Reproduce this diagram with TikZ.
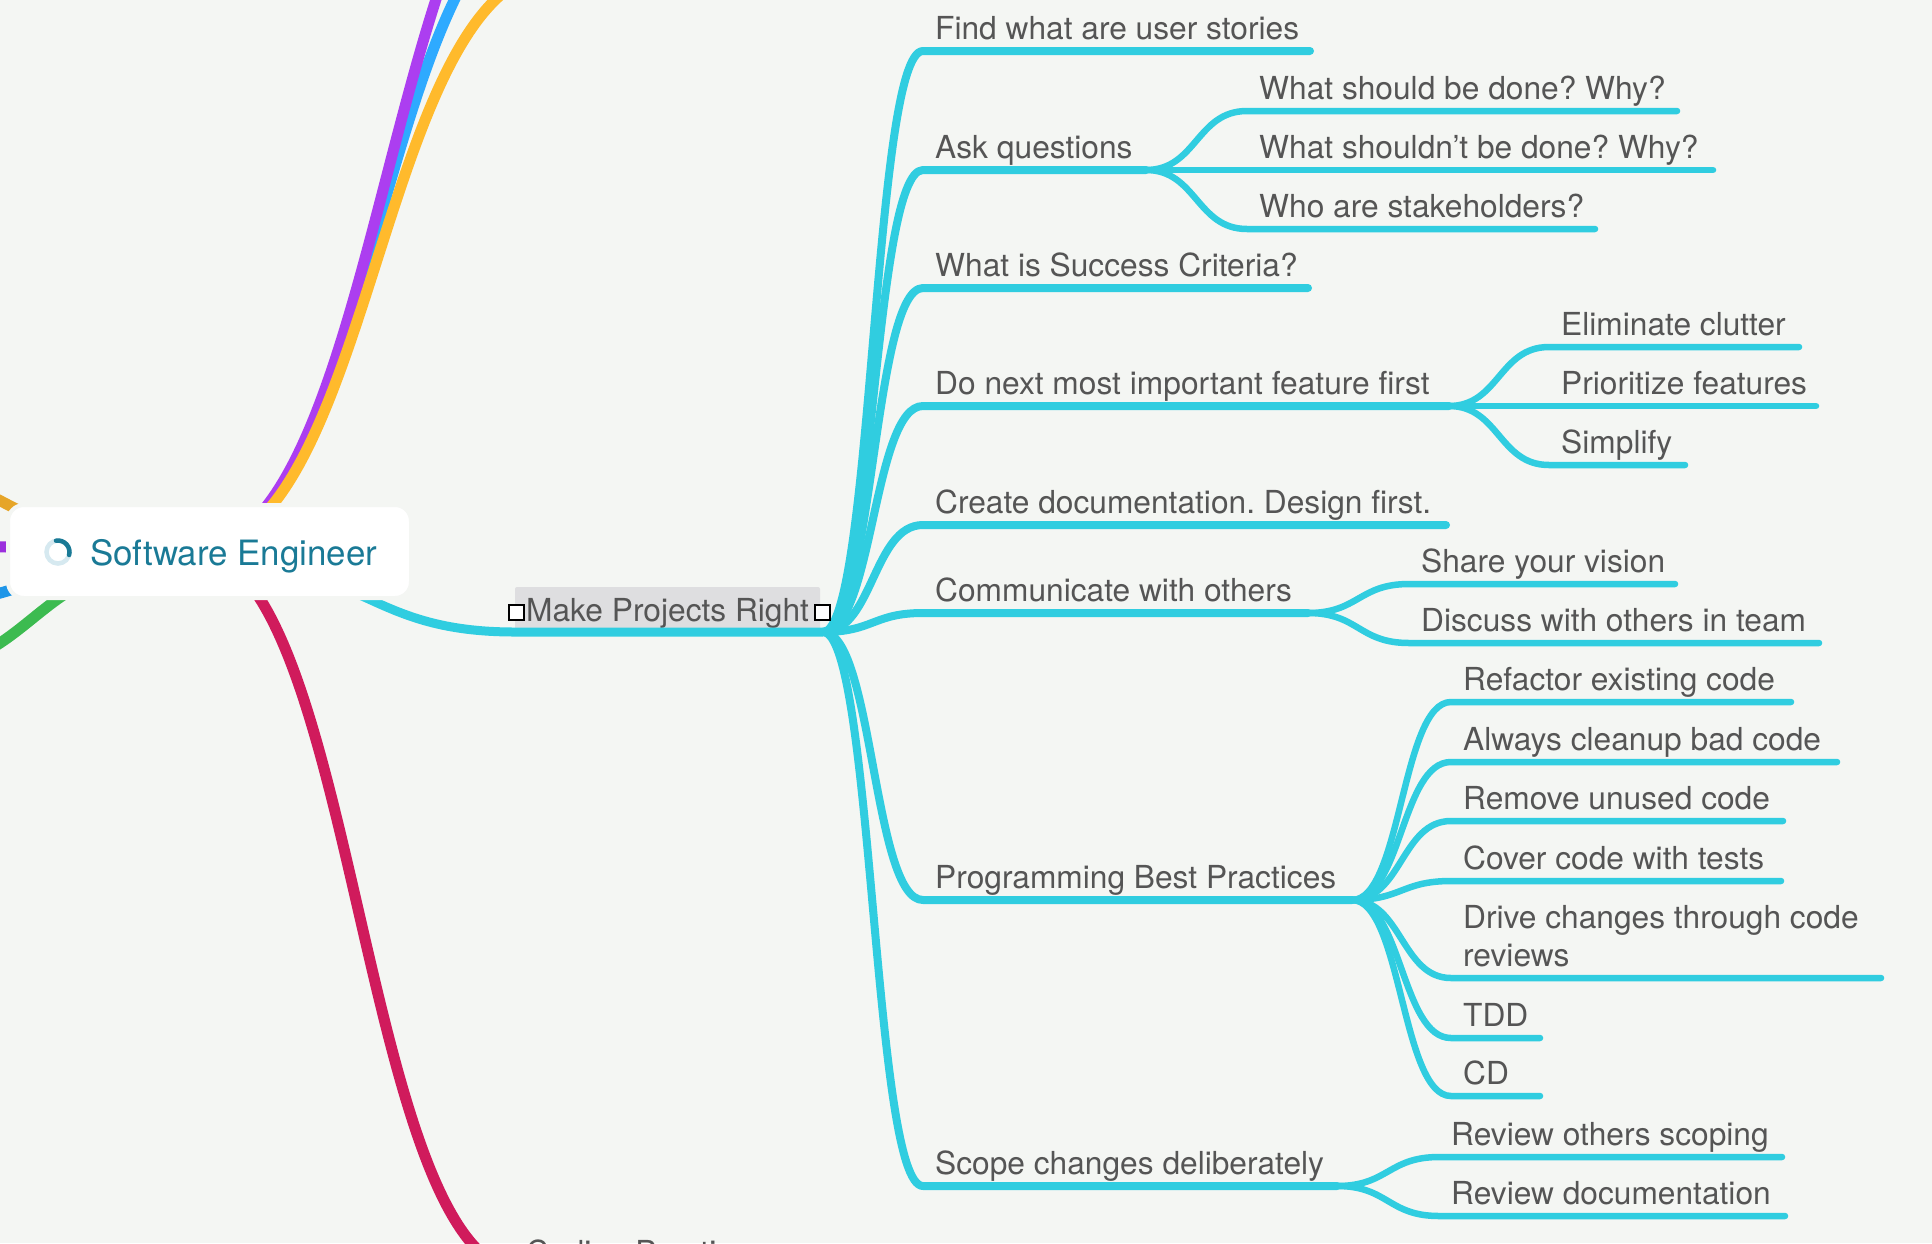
\documentclass[tikz,border=0pt]{standalone}
\usepackage{fontspec}
\setmainfont{TeX Gyre Heros}
\usetikzlibrary{calc}
\definecolor{bgc}{HTML}{F4F6F3}
\definecolor{teal}{HTML}{30CDE0}
\definecolor{txt}{HTML}{555555}
\definecolor{rootc}{HTML}{1A7A96}
\frenchspacing
\tikzset{
  lbl/.style={anchor=base west,inner sep=0pt,text=txt,font=\fontsize{31.7}{38}\selectfont},
  mainl/.style={draw=teal,line width=8pt,line cap=round,line join=round},
  subl/.style={draw=teal,line width=6.5pt,line cap=round,line join=round},
  bigl/.style={line width=11pt},
  handle/.style={draw=black,line width=1.5pt,fill=white,minimum size=15pt,inner sep=0pt},
}
% \topic{name}{x of text}{y of underline}{x of end}{text}
\newcommand\topic[5]{%
  \coordinate (#1-s) at (#2-13,#3+1);
  \coordinate (#1-e) at (#4-2,#3+1);
  \node[lbl] (#1) at (#2-1,#3-10.3) {#5};
}
% S curve from a parent's end to a child's start, then along the child's underline
\newcommand\scurve[3][subl]{%
  \draw[#1] (#2-e) .. controls ($(#2-e)!.5!(#2-e -| #3-s)$) and ($(#3-s)!.5!(#3-s -| #2-e)$) .. (#3-s) -- (#3-e);
}
\newcommand\branch[3]{\draw[bigl,#1] (#2) .. controls ($(#2)!.5!(#2 -| #3)$) and ($(#3)!.5!(#3 -| #2)$) .. (#3);}
\begin{document}
\begin{tikzpicture}[x=1pt,y=-1pt]
\useasboundingbox (0,0) rectangle (1932,1243);
\clip (0,0) rectangle (1932,1243);
\fill[bgc] (0,0) rectangle (1932,1243);

% centre and far ends of the big branches
\coordinate (hub) at (192,550);
\coordinate (hubg) at (165,565);
\coordinate (upA) at (582,-200);
\coordinate (upB) at (564,-100);
\coordinate (upC) at (562,-30);
\coordinate (lfA) at (-200,447);
\coordinate (lfB) at (-100,546);
\coordinate (lfC) at (-100,605);
\coordinate (lfD) at (-100,672);
\coordinate (code) at (525,1272);
\branch{draw={rgb,255:red,46;green,170;blue,255}}{hub}{upB}
\branch{draw={rgb,255:red,172;green,62;blue,240}}{hub}{upA}
\branch{draw={rgb,255:red,255;green,186;blue,44}}{hub}{upC}
\branch{draw={rgb,255:red,230;green,165;blue,40}}{hub}{lfA}
\branch{draw={rgb,255:red,155;green,47;blue,221}}{hub}{lfB}
\branch{draw={rgb,255:red,30;green,150;blue,232}}{hub}{lfC}
\branch{draw={rgb,255:red,60;green,187;blue,80}}{hubg}{lfD}
\branch{draw={rgb,255:red,208;green,27;blue,92}}{hub}{code}

% make projects right
\coordinate (mp-s) at (515,632);
\coordinate (mp-e) at (823,632);
\coordinate (hubr) at (220,565);
\fill[rounded corners=2pt,fill={rgb,255:red,222;green,222;blue,224}] (515,587) rectangle (820,630);
\node[lbl] (mp) at (526,621) {Make Projects Right};
\draw[mainl,line width=9pt,line cap=butt] (hubr) .. controls ($(hubr)!.5!(hubr -| mp-s)$) and ($(mp-s)!.5!(mp-s -| hubr)$) .. (mp-s) -- (mp-e);

% central topic
\node[fill=white,draw=bgc,line width=4pt,rounded corners=16pt,minimum width=403pt,minimum height=93pt,inner sep=0pt] (root) at (209.5,551.5) {};
\node[anchor=base west,inner sep=0pt,text=rootc,font=\fontsize{34.9}{44}\selectfont] (rootlabel) at (90,565) {Software Engineer};
\draw[draw={rgb,255:red,214;green,233;blue,240},line width=4.5pt] (58,552) circle[radius=11.5pt];
\draw[rootc,line width=4.5pt,line cap=round] (56,540.7) arc[start angle=100,end angle=-15,radius=11.5pt];

% first level
\topic{find}{936}{50}{1312}{Find what are user stories}
\topic{ask}{936}{169}{1148}{Ask questions}
\topic{succ}{936}{287}{1310}{What is Success Criteria?}
\topic{next}{936}{405}{1451}{Do next most important feature first}
\topic{docs}{936}{524}{1448}{Create documentation. Design first.}
\topic{comm}{936}{612}{1310}{Communicate with others}
\topic{prog}{936}{899}{1354}{Programming Best Practices}
\topic{scope}{936}{1185}{1339}{Scope changes deliberately}
\foreach \n in {find,ask,succ,next,docs,comm,prog,scope}{\scurve[mainl]{mp}{\n}{}}

\node[handle] (hl) at (516.5,612.5) {};
\node[handle] (hr) at (822.5,612.5) {};

% second level
\topic{q1}{1260}{110}{1679}{What should be done? Why?}
\topic{q2}{1260}{169}{1715}{What shouldn’t be done? Why?}
\topic{q3}{1260}{228}{1597}{Who are stakeholders?}
\foreach \n in {q1,q2,q3}{\scurve{ask}{\n}{}}
\topic{n1}{1562}{346}{1801}{Eliminate clutter}
\topic{n2}{1562}{405}{1818}{Prioritize features}
\topic{n3}{1562}{464}{1687}{Simplify}
\foreach \n in {n1,n2,n3}{\scurve{next}{\n}{}}
\topic{c1}{1422}{583}{1677}{Share your vision}
\topic{c2}{1422}{642}{1821}{Discuss with others in team}
\foreach \n in {c1,c2}{\scurve{comm}{\n}{}}
\topic{p1}{1464}{701}{1793}{Refactor existing code}
\topic{p2}{1464}{761}{1839}{Always cleanup bad code}
\topic{p3}{1464}{820}{1785}{Remove unused code}
\topic{p4}{1464}{880}{1783}{Cover code with tests}
\coordinate (p5-s) at (1451,978);
\coordinate (p5-e) at (1881,978);
\node[lbl,anchor=base west,align=left] (p5) at (1463,966) {Drive changes through code\\reviews};
\topic{p6}{1464}{1037}{1542}{TDD}
\topic{p7}{1464}{1095}{1542}{CD}
\foreach \n in {p1,p2,p3,p4,p5,p6,p7}{\scurve{prog}{\n}{}}
\topic{s1}{1452}{1156}{1784}{Review others scoping}
\topic{s2}{1452}{1215}{1787}{Review documentation}
\foreach \n in {s1,s2}{\scurve{scope}{\n}{}}

\node[lbl] (codelbl) at (526,1263) {Coding Practices};
\end{tikzpicture}
\end{document}
